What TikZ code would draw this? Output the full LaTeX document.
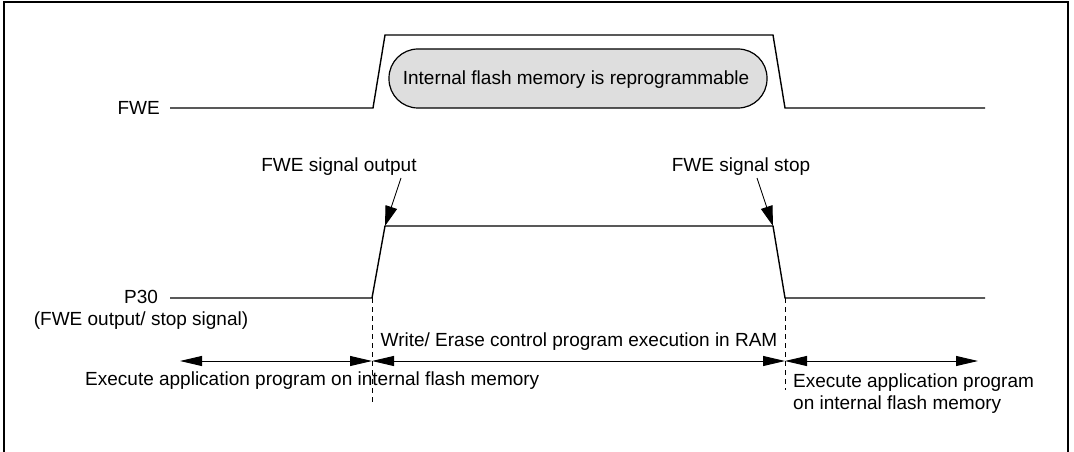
\documentclass[tikz,border=0pt]{standalone}
\usepackage{fontspec}
\setmainfont{Liberation Sans}
\usetikzlibrary{arrows.meta}
\begin{document}
\begin{tikzpicture}[x=1pt,y=-1pt,
  sig/.style={line width=1.4pt, line join=miter},
  lbl/.style={inner sep=0pt, font=\fontsize{19}{22}\selectfont},
  dim/.style={line width=0.9pt, {Triangle[length=22pt,width=10pt]}-{Triangle[length=22pt,width=10pt]}},
  pointer/.style={line width=0.9pt, -{Triangle[length=20pt,width=12pt]}},
  guide/.style={line width=0.9pt, dash pattern=on 5pt off 4pt}]
\useasboundingbox (0,0) rectangle (1074,452);
% frame (bottom edge lies outside the picture)
\draw[line width=2pt] (4,460) -- (4,2) -- (1068,2) -- (1068,460);
% FWE waveform
\coordinate (f0) at (170,108);
\coordinate (f1) at (373,108);
\coordinate (f2) at (385,35);
\coordinate (f3) at (773,35);
\coordinate (f4) at (785,108);
\coordinate (f5) at (985,108);
\draw[sig] (f0) -- (f1) -- (f2) -- (f3) -- (f4) -- (f5);
\node[lbl, anchor=east] (fwe) at (160,108) {FWE};
\draw[line width=1.2pt, rounded corners=29pt, fill=black!13] (389,49) rectangle (767,108);
\node[lbl] (reprog) at (576,80) {Internal flash memory is reprogrammable};
% P30 waveform
\coordinate (p0) at (170,298);
\coordinate (p1) at (372,298);
\coordinate (p2) at (385,226);
\coordinate (p3) at (773,226);
\coordinate (p4) at (785,298);
\coordinate (p5) at (985,298);
\draw[sig] (p0) -- (p1) -- (p2) -- (p3) -- (p4) -- (p5);
\node[lbl, align=center, anchor=north] (p30) at (141,290) {P30\\(FWE output/ stop signal)};
% pointers
\node[lbl] (out) at (339,167) {FWE signal output};
\node[lbl] (stop) at (741,167) {FWE signal stop};
\coordinate (outtail) at (401,178);
\coordinate (stoptail) at (757,178);
\draw[pointer] (outtail) -- (p2);
\draw[pointer] (stoptail) -- (p3);
% guides
\coordinate (g1) at (372,402);
\coordinate (g2) at (785,390);
\draw[guide] (p1) -- (g1);
\draw[guide] (p4) -- (g2);
% dimension arrows
\coordinate (a0) at (180,361);
\coordinate (a1) at (372,361);
\coordinate (a2) at (785,361);
\coordinate (a3) at (978,361);
\draw[dim] (a0) -- (a1);
\draw[dim] (a1) -- (a2);
\draw[dim] (a2) -- (a3);
\node[lbl] (ram) at (579,342) {Write/ Erase control program execution in RAM};
\node[lbl, anchor=west] (appl) at (85,381) {Execute application program on internal flash memory};
\node[lbl, align=left, anchor=north west] (appr) at (793,374) {Execute application program\\on internal flash memory};
\end{tikzpicture}
\end{document}
